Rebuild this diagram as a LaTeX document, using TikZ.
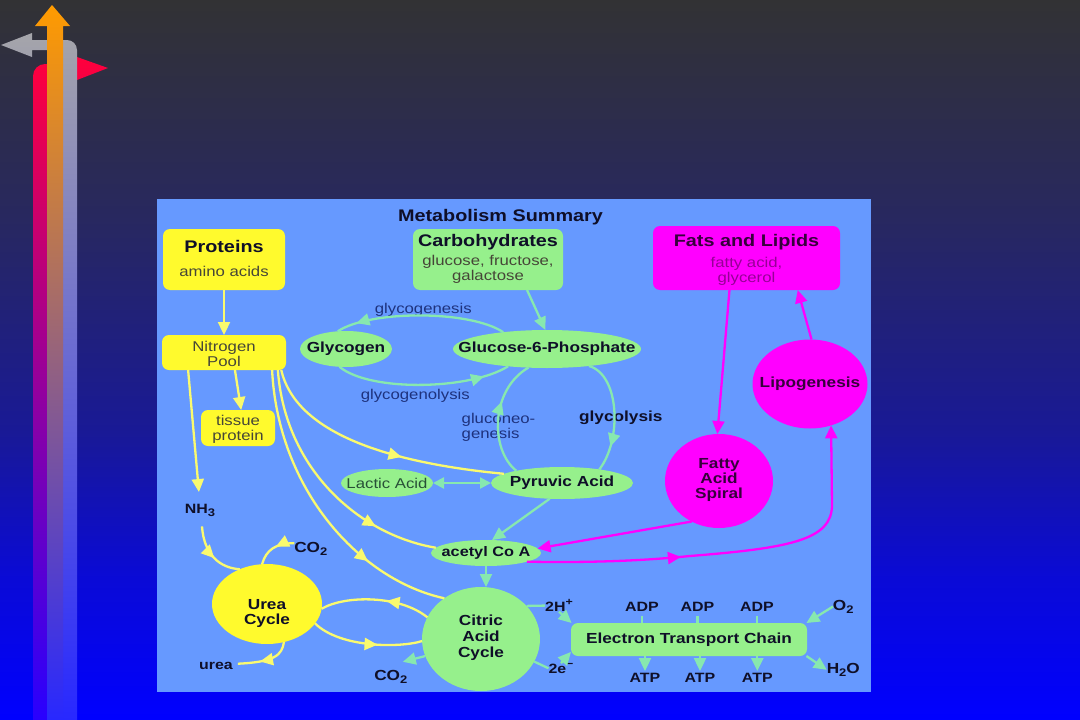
\documentclass[tikz,border=0pt]{standalone}
\usepackage{fontspec}
\setmainfont{Liberation Sans}[FakeStretch=1.18]
\usetikzlibrary{arrows.meta,decorations.markings,shapes.geometric,calc}

\definecolor{bgtop}{RGB}{50,50,52}
\definecolor{bgma}{RGB}{40,40,95}
\definecolor{bgmb}{RGB}{25,25,150}
\definecolor{bgmc}{RGB}{10,10,215}
\definecolor{bgbot}{RGB}{0,0,255}
\pgfdeclareverticalshading{bgshade}{100bp}{color(0bp)=(bgbot); color(25bp)=(bgbot); color(34.7bp)=(bgmc); color(45bp)=(bgmb); color(60bp)=(bgma); color(75bp)=(bgtop); color(100bp)=(bgtop)}

\definecolor{ortop}{RGB}{255,155,0}
\definecolor{orbot}{RGB}{40,40,255}
\definecolor{redtop}{RGB}{255,0,60}
\definecolor{redbot}{RGB}{40,0,255}
\definecolor{grtop}{RGB}{165,165,170}
\definecolor{grbot}{RGB}{40,40,255}

\definecolor{panel}{RGB}{102,153,255}
\definecolor{yfill}{RGB}{255,250,45}
\definecolor{yline}{RGB}{250,250,110}
\definecolor{gfill}{RGB}{150,240,140}
\definecolor{gline}{RGB}{135,232,175}
\definecolor{mag}{RGB}{255,0,255}
\definecolor{txt}{RGB}{15,15,40}
\definecolor{stxt}{RGB}{70,70,55}
\definecolor{ltxt}{RGB}{30,50,125}
\definecolor{mtxt}{RGB}{150,0,150}
\definecolor{mdark}{RGB}{55,0,60}
\definecolor{lacc}{RGB}{40,80,55}

\newcommand\fbig{\fontsize{16.8}{18}\selectfont\bfseries}
\newcommand\fbold{\fontsize{14.6}{15}\selectfont\bfseries}
\newcommand\freg{\fontsize{14.2}{15}\selectfont}
\newcommand\tb[2]{\raisebox{#1}[0pt][0pt]{\begin{tabular}[t]{@{}c@{}}#2\end{tabular}}}
\newcommand\dsub[1]{\raisebox{-0.22em}{\fontsize{11}{11}\selectfont #1}}
\newcommand\dsup[1]{\raisebox{0.45em}{\fontsize{10.5}{10.5}\selectfont #1}}

\tikzset{
  every node/.append style={inner sep=0pt, outer sep=0pt},
  boxs/.style={rounded corners=7pt},
  yb/.style={boxs, fill=yfill, font=\freg, text=stxt},
  gb/.style={boxs, fill=gfill, font=\freg, text=stxt},
  mb/.style={boxs, fill=mag, font=\freg, text=mtxt},
  ell/.style={ellipse, inner xsep=-30pt, inner ysep=0pt, fill=gfill, font=\fbold, text=txt},
  circ/.style={ellipse, font=\fbold, text=txt},
  lbl/.style={anchor=base, font=\freg, text=ltxt},
  blbl/.style={anchor=base, font=\fbold, text=txt},
  sblbl/.style={blbl, font=\fontsize{13.5}{15}\selectfont\bfseries},
  ar/.style={-{Triangle[length=13pt,width=12pt]}},
  yl/.style={color=yline, line width=2.3pt},
  gl/.style={color=gline, line width=2.3pt},
  ml/.style={color=mag, line width=2.3pt},
  midarr/.style={postaction={decorate}, decoration={markings, mark=at position #1 with {\arrow{Triangle[length=13pt,width=12pt]}}}},
}

\begin{document}
\begin{tikzpicture}[x=1pt,y=1pt]
\useasboundingbox (0,-720) rectangle (1080,0);
\shade[shading=bgshade] (0,-720) rectangle (1080,0);
% corner arrows
\shade[top color=redtop,bottom color=redbot] (108,-68) -- (77,-57) -- (77,-64) -- (45,-64) arc[start angle=90,end angle=180,radius=12] -- (33,-720) -- (47,-720) -- (47,-74) -- (77,-74) -- (77,-80) -- cycle;
\shade[top color=grtop,bottom color=grbot] (1,-45) -- (32,-33) -- (32,-40) -- (67,-40) arc[start angle=90,end angle=0,radius=10] -- (77,-720) -- (62,-720) -- (62,-50) -- (32,-50) -- (32,-57) -- cycle;
\shade[top color=ortop,bottom color=orbot] (52,-5) -- (70,-26) -- (63,-26) -- (63,-720) -- (47,-720) -- (47,-26) -- (35,-26) -- cycle;

\begin{scope}[x=1pt,y=-1pt]
\node[fill=panel, minimum width=714pt, minimum height=493pt] (panel) at (514,445.5) {};
\node[font=\fbig, text=txt, anchor=base] (title) at (500.5,221.7) {Metabolism Summary};

% boxes
\node[yb, minimum width=122pt, minimum height=61pt] (prot) at (224,259.5)
  {\tb{7.2pt}{{\fbig\color{txt}Proteins}\\[9.4pt]amino acids}};
\node[gb, minimum width=150pt, minimum height=61pt] (carb) at (488,259.5)
  {\tb{13.5pt}{{\fbig\color{txt}Carbohydrates}\\[4.7pt]glucose, fructose,\\galactose}};
\node[mb, minimum width=187pt, minimum height=64pt] (fats) at (746.5,258)
  {\tb{11.3pt}{{\fbig\color{mdark}Fats and Lipids}\\[6pt]fatty acid,\\glycerol}};
\node[yb, minimum width=124pt, minimum height=35pt] (np) at (224,352.5)
  {\tb{0.8pt}{Nitrogen\\Pool}};
\node[yb, minimum width=74pt, minimum height=36pt] (tis) at (238,428)
  {\tb{3pt}{tissue\\[0.7pt]protein}};

% ellipses
\node[ell, minimum width=92pt, minimum height=36pt] (gly) at (346,349) {Glycogen};
\node[ell, minimum width=188pt, minimum height=38pt] (g6p) at (547,349) {Glucose-6-Phosphate};
\node[ell, minimum width=92pt, minimum height=28pt, font=\freg, text=lacc] (lac) at (387,483) {Lactic Acid};
\node[ell, minimum width=142pt, minimum height=32pt] (pyr) at (562,483) {Pyruvic Acid};
\node[ell, minimum width=110pt, minimum height=26pt, font=\fontsize{13.8}{15}\selectfont\bfseries] (acetyl) at (486,553) {acetyl Co A};
\node[circ, fill=gfill, minimum width=118pt, minimum height=104pt] (cit) at (481,639)
  {\tb{13.3pt}{Citric\\[1pt]Acid\\[1pt]Cycle}};
\node[circ, fill=yfill, minimum width=110pt, minimum height=80pt] (urea) at (267,604)
  {\tb{-5pt}{Urea\\Cycle}};
\node[circ, fill=mag, minimum width=108pt, minimum height=94pt, text=mdark] (fas) at (719,481)
  {\tb{12.7pt}{Fatty\\Acid\\Spiral}};
\node[ell, fill=mag, minimum width=115pt, minimum height=89pt, text=mdark] (lipo) at (810,384) {Lipogenesis};
\node[gb, minimum width=236pt, minimum height=33pt, font=\fbold, text=txt] (etc) at (689,639.5) {Electron Transport Chain};

% labels
\node[lbl] (lgen) at (423.3,313.3) {glycogenesis};
\node[lbl] (llys) at (415.3,399.3) {glycogenolysis};
\node[anchor=base west, font=\freg, text=ltxt] (lneo) at (461.7,423.3)
  {\begin{tabular}[t]{@{}l@{}}gluconeo-\\genesis\end{tabular}};
\node[blbl] (lglyc) at (620.8,421.7) {glycolysis};
\node[sblbl] (nh3) at (200,513.3) {NH\dsub{3}};
\node[blbl] (co2a) at (310.8,552.7) {CO\dsub{2}};
\node[sblbl] (urealbl) at (216,669.3) {urea};
\node[blbl] (co2b) at (390.8,680) {CO\dsub{2}};
\node[sblbl] (h2p) at (559,611.7) {2H\dsup{+}};
\node[sblbl] (e2) at (561,673.3) {2e\dsup{−}};
\node[sblbl] (adpa) at (642,611.7) {ADP};
\node[sblbl] (adpb) at (697.5,611.7) {ADP};
\node[sblbl] (adpc) at (757,611.7) {ADP};
\node[sblbl] (atpa) at (645,682.3) {ATP};
\node[sblbl] (atpb) at (700,682.3) {ATP};
\node[sblbl] (atpc) at (757.3,682.3) {ATP};
\node[blbl] (o2) at (843.3,610) {O\dsub{2}};
\node[blbl] (h2o) at (843.3,673.3) {H\dsub{2}O};

% yellow connectors
\draw[yl,ar] (prot.south) -- (np.north);
\draw[yl,ar] (np.-58) -- (tis.80);
\draw[yl,ar,shorten >=12pt] (np.-154) -- (nh3.north);
\draw[yl,midarr=0.6] (np.-17) .. controls (295,430) and (380,462) .. (pyr.171);
\draw[yl,midarr=0.75] (np.-18.5) .. controls (285,470) and (360,535) .. (acetyl.174);
\draw[yl,midarr=0.72] (np.-20) .. controls (278,490) and (360,580) .. (cit.132);
\draw[yl,midarr=0.55] ($(nh3.south)+(2,10)$) .. controls (204,555) and (220,568) .. (urea.128);
\draw[yl,midarr=0.45] (co2a.160) .. controls (276,543) and (266,550) .. (urea.97);
\draw[yl,midarr=0.6] (urea.-66) .. controls (282,655) and (275,662) .. ($(urealbl.east)+(5,-2)$);
\draw[yl,midarr=0.4] (cit.158) .. controls (400,595) and (345,595) .. (urea.-5);
\draw[yl,midarr=0.6] (urea.-22) .. controls (340,648) and (400,648) .. (cit.182);

% green connectors
\draw[gl,ar] (carb.-38) -- (g6p.95);
\draw[gl,midarr=0.88] (g6p.159) .. controls (470,310) and (370,310) .. (gly.115);
\draw[gl,midarr=0.85] (gly.-110) .. controls (370,392) and (470,390) .. (g6p.204);
\draw[gl,midarr=0.63] (pyr.165) .. controls (490,450) and (490,390) .. (g6p.225);
\draw[gl,midarr=0.78] (g6p.-22) .. controls (620,375) and (622,440) .. (pyr.20);
\draw[gl,{Triangle[length=11pt,width=11pt]}-{Triangle[length=11pt,width=11pt]}] (lac.east) -- (pyr.west);
\draw[gl,ar] (pyr.-128) -- (acetyl.65);
\draw[gl,ar] (acetyl.south) -- (acetyl.south |- cit.north);
\draw[gl,ar] (cit.197) -- ($(co2b.north)+(12,-8)$);
\draw[gl] (cit.36) -- (h2p.west);
\draw[gl,ar] (h2p.south) -- (etc.172);
\draw[gl] (cit.-23) -- (e2.west);
\draw[gl,ar] (e2.north) -- (etc.186);
\foreach \n in {adpa,adpb,adpc}{\draw[gl,shorten <=4pt] (\n.south) -- (\n.south |- etc.north);}
\foreach \n in {atpa,atpb,atpc}{\draw[gl,ar,shorten >=2pt] (\n.north |- etc.south) -- (\n.north);}
\draw[gl,ar] (o2.west) -- (etc.8);
\draw[gl,ar] (etc.-8) -- (h2o.west);

% magenta connectors
\draw[ml,ar] (fats.-118) -- (fas.92);
\draw[ml,ar] (lipo.88) -- (fats.-32);
\draw[ml,ar] (fas.-124) -- (acetyl.5);
\draw[ml,ar,midarr=0.38] (acetyl.-12) .. controls (600,563) and (650,560) .. (690,556) .. controls (790,548) and (832,540) .. (832,505) -- (lipo.-63);
\end{scope}
\end{tikzpicture}
\end{document}
